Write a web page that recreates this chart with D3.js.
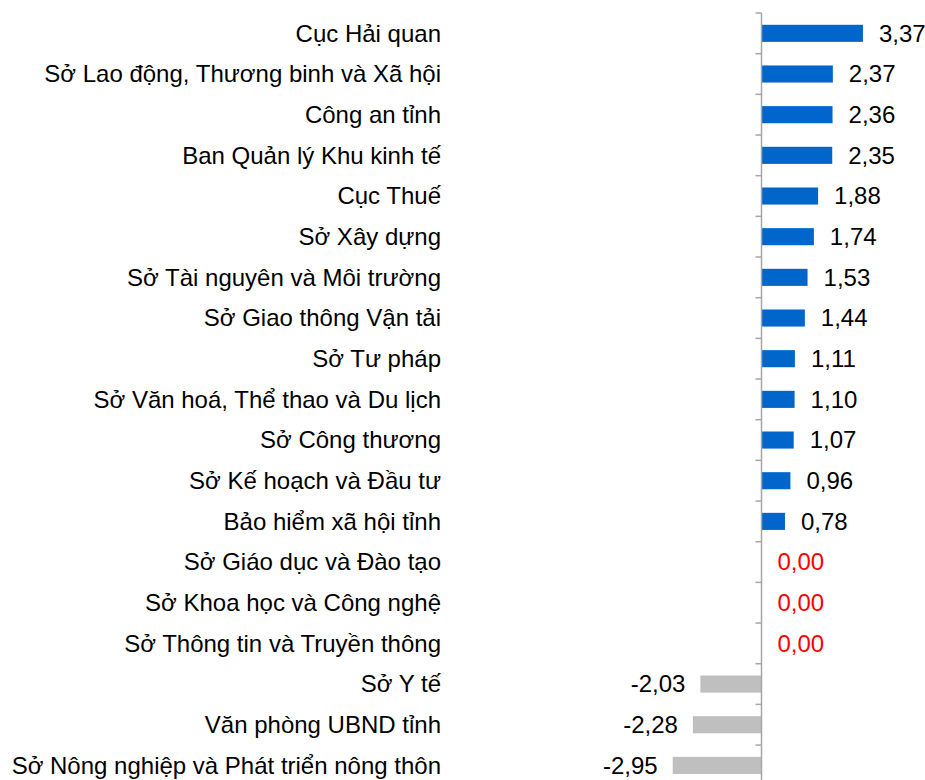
<!DOCTYPE html>
<html><head><meta charset="utf-8">
<script src="https://cdn.jsdelivr.net/npm/d3@7"></script>
<style>body{margin:0;background:#fff}svg{display:block}</style>
</head><body>
<script>
const categories = ["Cục Hải quan","Sở Lao động, Thương binh và Xã hội","Công an tỉnh","Ban Quản lý Khu kinh tế","Cục Thuế","Sở Xây dựng","Sở Tài nguyên và Môi trường","Sở Giao thông Vận tải","Sở Tư pháp","Sở Văn hoá, Thể thao và Du lịch","Sở Công thương","Sở Kế hoạch và Đầu tư","Bảo hiểm xã hội tỉnh","Sở Giáo dục và Đào tạo","Sở Khoa học và Công nghệ","Sở Thông tin và Truyền thông","Sở Y tế","Văn phòng UBND tỉnh","Sở Nông nghiệp và Phát triển nông thôn"];
const values = [3.37,2.37,2.36,2.35,1.88,1.74,1.53,1.44,1.11,1.10,1.07,0.96,0.78,0.00,0.00,0.00,-2.03,-2.28,-2.95];

const W=925,H=780;
const svg=d3.select("body").append("svg").attr("width",W).attr("height",H);
const zeroX=761.5, unit=30.1;
const x=d3.scaleLinear().domain([0,1]).range([zeroX,zeroX+unit]);
const y=d3.scaleBand().domain(categories).range([13,13+40.67*19]).paddingInner(0.58).paddingOuter(0.29);
const fmt=v=>d3.format(".2f")(v).replace(".",",").replace("−","-");
const font="Liberation Sans, Arial, sans-serif";

svg.append("g").selectAll("rect").data(values).join("rect")
  .attr("x",d=>Math.min(x(0),x(d))).attr("width",d=>Math.abs(x(d)-x(0)))
  .attr("y",(d,i)=>y(categories[i])).attr("height",y.bandwidth())
  .attr("fill",d=>d<0?"#BFBFBF":"#0066CC");

const g=svg.append("g").attr("stroke","#A6A6A6").attr("stroke-width",1.5);
g.append("line").attr("x1",zeroX).attr("x2",zeroX).attr("y1",13).attr("y2",H);
g.selectAll("line.t").data(d3.range(20)).join("line").attr("class","t")
  .attr("x1",zeroX-6).attr("x2",zeroX).attr("y1",i=>13+40.67*i).attr("y2",i=>13+40.67*i);

svg.append("g").selectAll("text").data(categories).join("text")
  .attr("x",441).attr("y",d=>y(d)+y.bandwidth()/2).attr("dy","0.35em")
  .attr("text-anchor","end").attr("font-family",font)
  .attr("font-size",24).attr("fill","#000").text(d=>d);

svg.append("g").selectAll("text").data(values).join("text")
  .attr("x",d=>d<0?x(d)-15:x(d)+16).attr("y",(d,i)=>y(categories[i])+y.bandwidth()/2).attr("dy","0.35em")
  .attr("text-anchor",d=>d<0?"end":"start").attr("font-family",font)
  .attr("font-size",24).attr("fill",d=>d===0?"#FF0000":"#000").text(d=>fmt(d));
</script>
</body></html>
